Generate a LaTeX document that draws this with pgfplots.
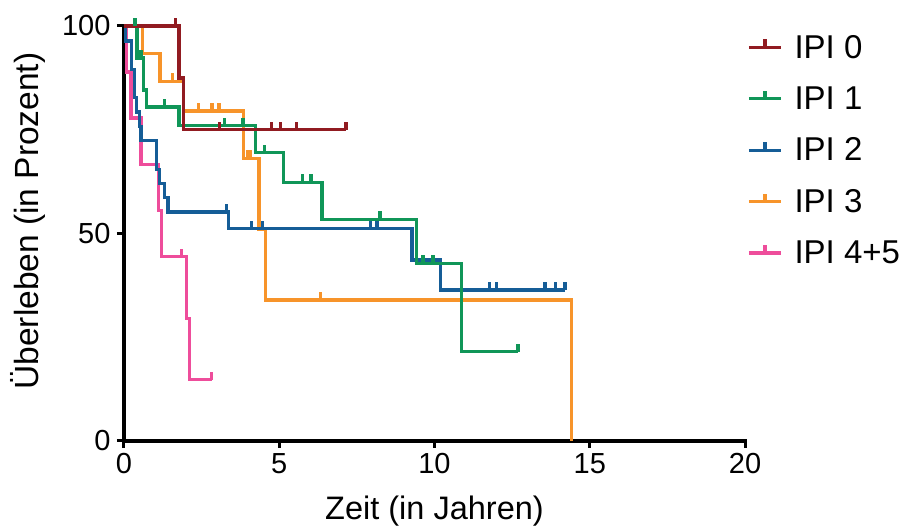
\documentclass[border=0pt]{standalone}
\usepackage{fontspec}
\setmainfont{Liberation Sans}
\usepackage{pgfplots}
\pgfplotsset{compat=1.18}
\definecolor{cA}{RGB}{145,27,33}
\definecolor{cB}{RGB}{16,150,88}
\definecolor{cC}{RGB}{21,93,151}
\definecolor{cD}{RGB}{247,148,42}
\definecolor{cE}{RGB}{238,77,155}
\pgfdeclareplotmark{cens}{\pgfpathmoveto{\pgfpointorigin}\pgfpathlineto{\pgfpoint{0pt}{8pt}}\pgfusepathqstroke}
\begin{document}
\begin{tikzpicture}
\begin{axis}[
  name=ax,
  scale only axis,
  width=621pt, height=415pt,
  xmin=0, xmax=20, ymin=0, ymax=100,
  clip=false,
  axis x line=bottom, axis y line=left,
  axis line style={-, line width=4pt, line cap=rect},
  xtick={0,5,10,15,20}, ytick={0,50,100},
  minor tick num=0,
  tick align=outside,
  major tick length=7pt,
  every tick/.style={black, line width=3pt},
  tick label style={font=\fontsize{29}{31}\selectfont},
  /pgf/number format/assume math mode=true,
  xticklabel style={yshift=-2pt},
  yticklabel style={xshift=-3pt},
  xlabel={Zeit (in Jahren)},
  ylabel={Überleben (in Prozent)},
  xlabel style={font=\fontsize{32.5}{36}\selectfont, at={(axis description cs:0.5,-0.168)}, anchor=center},
  ylabel style={font=\fontsize{33.5}{36}\selectfont, at={(axis description cs:-0.155,0.53)}, anchor=center, rotate=0},
  legend image code/.code={\draw[#1, line width=3.3pt] (0pt,0pt) -- (32pt,0pt); \draw[#1, line width=3.3pt] (16pt,0pt) -- (16pt,8pt);},
  legend style={at={(axis description cs:1.0,1.0)}, anchor=north west, yshift=-5pt, draw=none, fill=none,
    font=\fontsize{33}{36}\selectfont, row sep=23pt, inner sep=2pt,
    /tikz/every odd column/.append style={column sep=10pt}},
  legend cell align=left,
  reverse legend,
]
% IPI 4+5
\addplot[const plot, color=cE, line width=3.3pt] coordinates {(0,100)(0.09,88.9)(0.23,77.8)(0.55,66.7)(1.1,55.6)(1.2,44.4)(2.01,29.6)(2.1,14.8)(2.82,14.8)};
\addlegendentry{IPI 4+5}
\addplot[only marks, mark=cens, color=cE, mark options={line width=3.3pt}, forget plot] coordinates {(1.85,44.4)(2.82,14.8)};
% IPI 3
\addplot[const plot, color=cD, line width=3.3pt] coordinates {(0,100)(0.59,93.3)(1.16,86.7)(1.91,79.5)(3.85,68.1)(4.35,51)(4.55,34)(14.42,0)};
\addlegendentry{IPI 3}
\addplot[only marks, mark=cens, color=cD, mark options={line width=3.3pt}, forget plot] coordinates {(1.56,86.7)(2.4,79.5)(2.83,79.5)(3.06,79.5)(3.98,68.1)(4.06,68.1)(6.32,34)};
% IPI 2
\addplot[const plot, color=cC, line width=3.3pt] coordinates {(0,100)(0.04,96.4)(0.25,89.6)(0.33,82.8)(0.41,79.3)(0.5,75.8)(0.55,72.4)(1.04,65.5)(1.15,62.1)(1.31,58.6)(1.42,55.2)(3.37,51.2)(9.28,43.6)(10.2,36.4)(14.2,36.4)};
\addlegendentry{IPI 2}
\addplot[only marks, mark=cens, color=cC, mark options={line width=3.3pt}, forget plot] coordinates {(3.31,55.2)(4.1,51.2)(4.47,51.2)(7.94,51.2)(8.15,51.2)(11.78,36.4)(11.99,36.4)(13.56,36.4)(13.9,36.4)(14.2,36.4)};
% IPI 1
\addplot[const plot, color=cB, line width=3.3pt] coordinates {(0,100)(0.42,92.3)(0.62,84.6)(0.73,80.5)(1.77,76)(4.23,69.5)(5.14,62.3)(6.38,53.4)(9.42,42.8)(10.87,21.5)(12.69,21.5)};
\addlegendentry{IPI 1}
\addplot[only marks, mark=cens, color=cB, mark options={line width=3.3pt}, forget plot] coordinates {(0.35,100)(0.55,92.3)(1.3,80.5)(3.23,76)(3.83,76)(4.52,69.5)(5.76,62.3)(6.02,62.3)(8.24,53.4)(9.63,42.8)(9.95,42.8)(12.69,21.5)};
% IPI 0
\addplot[const plot, color=cA, line width=3.3pt] coordinates {(0,100)(1.77,87.5)(1.91,75)(7.15,75)};
\addlegendentry{IPI 0}
\addplot[only marks, mark=cens, color=cA, mark options={line width=3.3pt}, forget plot] coordinates {(1.65,100)(3.07,75)(4.74,75)(5.03,75)(5.55,75)(7.15,75)};
\end{axis}
\pgfresetboundingbox
\path (ax.south west) ++(-124pt,-85pt) rectangle ++(901pt,526pt);
\end{tikzpicture}
\end{document}
